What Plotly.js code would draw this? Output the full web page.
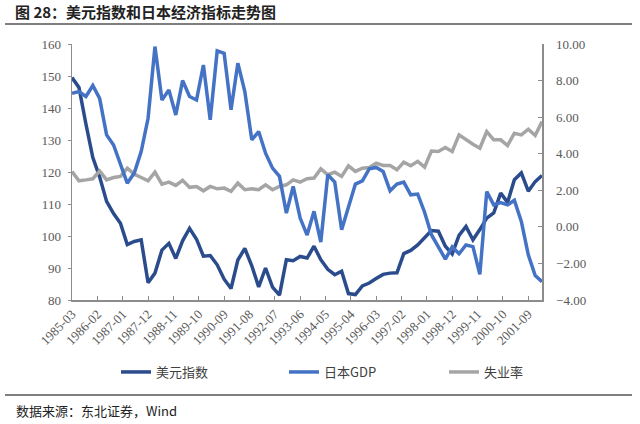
<!DOCTYPE html>
<html>
<head>
<meta charset="utf-8">
<script src="https://cdn.plot.ly/plotly-3.0.1.min.js"></script>
<style>
  html, body { margin: 0; padding: 0; background: #fff; }
  #chart { width: 640px; height: 424px; }
</style>
</head>
<body>
<div id="chart"></div>
<script>
// quarterly observations, 1985-03 .. 2002-03
var startYear = 1985, startMonth = 3, nPoints = 69;

var dollarIndex = [
  149.5, 146.4, 135.0, 124.5, 118.5, 110.8, 107.0, 104.0, 97.3, 98.3,
  98.8, 85.4, 88.4, 95.6, 97.7, 93.0, 98.5, 102.4, 99.0, 93.7,
  93.9, 91.0, 86.5, 83.6, 92.5, 96.1, 90.7, 84.1, 90.0, 84.0,
  81.5, 92.6, 92.3, 93.6, 93.1, 96.8, 92.6, 89.6, 87.9, 89.0,
  82.0, 81.7, 84.4, 85.3, 86.7, 88.0, 88.4, 88.5, 94.5, 95.5,
  97.2, 99.4, 101.7, 101.5, 96.8, 94.4, 100.2, 103.0, 98.8, 102.0,
  105.6, 107.2, 113.4, 110.5, 117.6, 119.7, 114.0, 117.0, 118.9
];

var japanGDP = [
  7.31, 7.40, 7.13, 7.73, 7.03, 5.03, 4.48, 3.39, 2.39, 2.94,
  4.12, 5.94, 9.86, 6.94, 7.49, 6.12, 8.00, 7.13, 6.94, 8.85,
  5.85, 9.62, 9.49, 6.40, 8.95, 7.40, 4.76, 5.21, 4.03, 3.21,
  2.76, 0.75, 2.21, 0.48, -0.45, 0.85, -0.83, 2.85, 2.45, -0.16,
  1.03, 2.34, 2.52, 3.17, 3.25, 3.03, 1.97, 2.34, 2.45, 1.75,
  1.79, 0.80, -0.43, -1.07, -1.76, -1.10, -1.47, -0.99, -1.08, -2.60,
  1.93, 1.20, 1.33, 1.20, 1.45, 0.30, -1.53, -2.66, -3.00
];

var unemployment = [
  3.03, 2.52, 2.57, 2.63, 3.06, 2.57, 2.70, 2.76, 3.21, 2.88,
  2.70, 2.52, 2.99, 2.34, 2.45, 2.27, 2.55, 2.16, 2.21, 1.97,
  2.21, 2.08, 2.12, 1.94, 2.39, 2.03, 2.08, 2.03, 2.30, 2.03,
  2.21, 2.30, 2.57, 2.45, 2.63, 2.67, 3.17, 2.85, 2.99, 2.76,
  3.34, 3.03, 3.21, 3.25, 3.48, 3.36, 3.36, 3.12, 3.54, 3.34,
  3.58, 3.27, 4.15, 4.12, 4.34, 4.12, 5.03, 4.76, 4.52, 4.30,
  5.21, 4.76, 4.76, 4.45, 5.12, 5.03, 5.34, 5.00, 5.76
];

var tickLabels = [
  '1985-03', '1986-02', '1987-01', '1987-12', '1988-11', '1989-10',
  '1990-09', '1991-08', '1992-07', '1993-06', '1994-05', '1995-04',
  '1996-03', '1997-02', '1998-01', '1998-12', '1999-11', '2000-10', '2001-09'
];

var dates = [];
for (var i = 0; i < nPoints; i++) {
  var m = startMonth - 1 + 3 * i;
  var yr = startYear + Math.floor(m / 12);
  var mo = (m % 12) + 1;
  dates.push(yr + '-' + (mo < 10 ? '0' : '') + mo + '-01');
}
var tickVals = tickLabels.map(function(t) { return t + '-01'; });

// plot box in pixels
var W = 640, H = 424;
var L = 72, R = 542, T = 44, B = 300;
function px(x) { return (x - L) / (R - L); }
function py(y) { return (B - y) / (B - T); }

var tickFont = {family: "'Liberation Serif', 'Times New Roman', serif", size: 13, color: '#595959'};
var cjk = "'Noto Sans CJK SC', sans-serif";

var traces = [
  {
    x: dates, y: dollarIndex, name: '美元指数', yaxis: 'y', legend: 'legend',
    mode: 'lines', line: {color: '#2B4C8C', width: 3.5}
  },
  {
    x: dates, y: unemployment, name: '失业率', yaxis: 'y2', legend: 'legend3',
    mode: 'lines', line: {color: '#A5A5A5', width: 3.5}
  },
  {
    x: dates, y: japanGDP, name: '日本GDP', yaxis: 'y2', legend: 'legend2',
    mode: 'lines', line: {color: '#4472C4', width: 3.5}
  }
];

function legendAt(x) {
  return {
    orientation: 'h', x: px(x), xanchor: 'left',
    y: py(372), yanchor: 'middle',
    bgcolor: 'rgba(0,0,0,0)', borderwidth: 0,
    font: {family: cjk, size: 13, color: '#404040'}
  };
}

var layout = {
  width: W, height: H,
  margin: {l: L, r: W - R, t: T, b: H - B},
  paper_bgcolor: '#fff', plot_bgcolor: '#fff',
  showlegend: true,
  title: {
    text: '<b>图 28：美元指数和日本经济指标走势图</b>',
    font: {family: cjk, size: 15, color: '#222'},
    x: 15 / W, xref: 'container', xanchor: 'left',
    y: 1 - 13 / H, yref: 'container', yanchor: 'middle'
  },
  xaxis: {
    type: 'date',
    range: ['1985-03-01', '2002-03-01'],
    tickvals: tickVals, ticktext: tickLabels,
    tickangle: -45, tickfont: tickFont,
    showgrid: false, zeroline: false,
    showline: true, linecolor: '#8C8C8C', linewidth: 1.5,
    ticks: 'inside', ticklen: 4, tickcolor: '#8C8C8C', tickwidth: 1
  },
  yaxis: {
    range: [80, 160], dtick: 10, tickfont: tickFont,
    showgrid: false, zeroline: false,
    showline: true, linecolor: '#8C8C8C', linewidth: 1.5,
    ticks: 'outside', ticklen: 3, tickcolor: '#8C8C8C',
    ticklabelstandoff: 4
  },
  yaxis2: {
    overlaying: 'y', side: 'right',
    range: [-4, 10], dtick: 2, tickformat: '.2f', tickfont: tickFont,
    showgrid: false, zeroline: false,
    showline: true, linecolor: '#8C8C8C', linewidth: 1.5,
    ticks: 'inside', ticklen: 4, tickcolor: '#8C8C8C',
    ticklabelstandoff: 10
  },
  legend: legendAt(116),
  legend2: legendAt(284),
  legend3: legendAt(444),
  shapes: [
    {type: 'line', xref: 'paper', yref: 'paper',
     x0: px(5), x1: px(632), y0: py(24), y1: py(24),
     line: {color: '#7F7F7F', width: 2}},
    {type: 'line', xref: 'paper', yref: 'paper',
     x0: px(5), x1: px(632), y0: py(395), y1: py(395),
     line: {color: '#7F7F7F', width: 2}}
  ],
  annotations: [
    {text: '数据来源：东北证券，Wind', xref: 'paper', yref: 'paper',
     x: px(14), y: py(410), xanchor: 'left', yanchor: 'middle',
     showarrow: false, font: {family: cjk, size: 13, color: '#222'}}
  ]
};

Plotly.newPlot('chart', traces, layout, {staticPlot: true, displayModeBar: false});
</script>
</body>
</html>
